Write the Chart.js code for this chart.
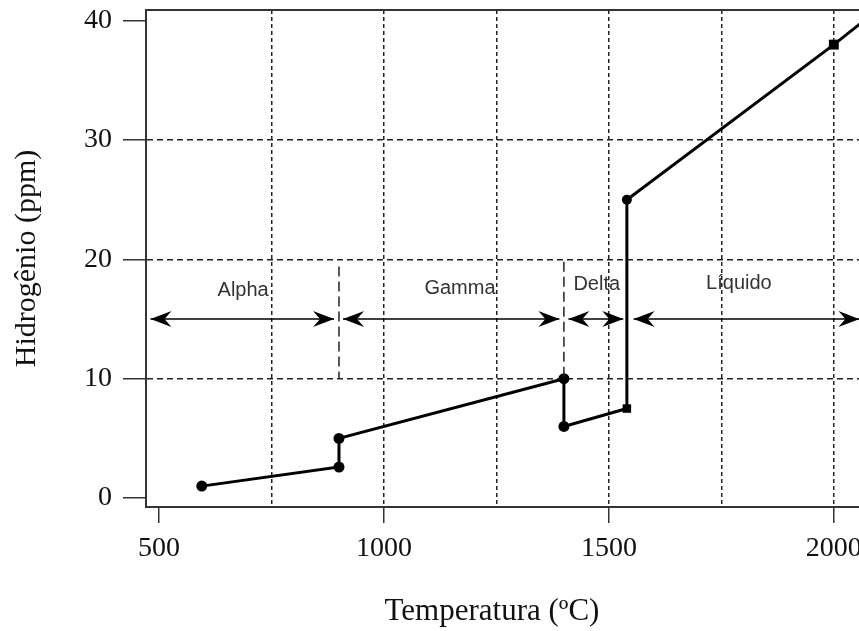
<!DOCTYPE html>
<html>
<head>
<meta charset="utf-8">
<title>Hidrogênio x Temperatura</title>
<script src="https://cdn.jsdelivr.net/npm/chart.js@4.4.1/dist/chart.umd.min.js"></script>
<style>
    html, body { margin: 0; padding: 0; background: #fff; }
</style>
</head>
<body>
<canvas id="chart" width="859" height="631"></canvas>
<script>
// Solubilidade do hidrogênio no ferro
const temperatures = [595, 900, 900, 1400, 1400, 1540, 1540, 2000, 2100];
const hydrogen = [1, 2.6, 5, 10, 6, 7.5, 25, 38, 41];
const markerStyles = ['circle', 'circle', 'circle', 'circle', 'circle', 'rect', 'circle', 'rect', 'circle'];
const markerSizes = [5.5, 5.5, 5.5, 5.5, 5.5, 6, 5, 7, 0];

const xTicks = [500, 1000, 1500, 2000];
const xGrid = [750, 1000, 1250, 1500, 1750, 2000];
const yTicks = [0, 10, 20, 30, 40];
const yGrid = [10, 20, 30];

// Faixas das fases (setas duplas em 15 ppm)
const phaseNames = ['Alpha', 'Gamma', 'Delta', 'Líquido'];
const phaseStart = [481, 909, 1410, 1555];
const phaseEnd = [889, 1390, 1532, 2057];
const phaseLabelX = [687, 1169, 1473, 1789];
const phaseLabelY = [17.4, 17.6, 17.9, 18.0];
const arrowLevel = 15;

// Limites de fase tracejados
const boundaryX = [900, 1400];
const boundaryTop = [19.4, 19.8];
const boundaryBottom = [10, 10];

const serif = 'Liberation Serif';
const sans = 'Liberation Sans';

/**
 * Desenha a ponta de seta (dir = 1 para a direita, -1 para a esquerda)
 */
function arrowHead(ctx, tipX, y, dir) {
    ctx.beginPath();
    ctx.moveTo(tipX, y);
    ctx.lineTo(tipX - dir * 21, y - 8);
    ctx.lineTo(tipX - dir * 14, y);
    ctx.lineTo(tipX - dir * 21, y + 8);
    ctx.closePath();
    ctx.fill();
}

const phasePlugin = {
    id: 'phases',
    afterDatasetsDraw(chart) {
        const { ctx, chartArea, scales: { x, y } } = chart;
        ctx.save();

        // Linha superior da moldura
        ctx.strokeStyle = '#333';
        ctx.lineWidth = 2;
        ctx.beginPath();
        ctx.moveTo(chartArea.left - 1, chartArea.top);
        ctx.lineTo(chartArea.right, chartArea.top);
        ctx.stroke();

        // Limites tracejados
        ctx.strokeStyle = '#222';
        ctx.lineWidth = 1.5;
        ctx.setLineDash([10, 5]);
        boundaryX.forEach((b, i) => {
            const px = x.getPixelForValue(b);
            ctx.beginPath();
            ctx.moveTo(px, y.getPixelForValue(boundaryTop[i]));
            ctx.lineTo(px, y.getPixelForValue(boundaryBottom[i]));
            ctx.stroke();
        });
        ctx.setLineDash([]);

        // Setas das fases
        const ay = y.getPixelForValue(arrowLevel);
        ctx.fillStyle = '#000';
        ctx.strokeStyle = '#000';
        phaseStart.forEach((s, i) => {
            const x1 = x.getPixelForValue(s);
            const x2 = x.getPixelForValue(phaseEnd[i]);
            ctx.lineWidth = 1.5;
            ctx.beginPath();
            ctx.moveTo(x1, ay);
            ctx.lineTo(x2, ay);
            ctx.stroke();
            arrowHead(ctx, x1, ay, -1);
            arrowHead(ctx, x2, ay, 1);
        });

        // Nomes das fases
        ctx.fillStyle = '#333';
        ctx.font = `20px "${sans}"`;
        ctx.textAlign = 'center';
        ctx.textBaseline = 'middle';
        phaseNames.forEach((name, i) => {
            ctx.fillText(name, x.getPixelForValue(phaseLabelX[i]), y.getPixelForValue(phaseLabelY[i]));
        });

        // Título do eixo X
        ctx.fillStyle = '#111';
        ctx.font = `31px "${serif}"`;
        ctx.fillText('Temperatura (ºC)', 492, 612);

        ctx.restore();
    }
};

const ctx = document.getElementById('chart');

new Chart(ctx, {
    type: 'line',
    data: {
        datasets: [{
            data: temperatures.map((t, i) => ({ x: t, y: hydrogen[i] })),
            borderColor: '#000',
            borderWidth: 3,
            pointStyle: markerStyles,
            pointRadius: markerSizes,
            pointBackgroundColor: '#000',
            pointBorderColor: '#000',
            pointBorderWidth: 0,
            tension: 0,
            fill: false
        }]
    },
    options: {
        responsive: false,
        animation: false,
        layout: {
            autoPadding: false,
            padding: { top: 10, left: 0, right: 0, bottom: 0 }
        },
        plugins: {
            legend: { display: false },
            tooltip: { enabled: false }
        },
        scales: {
            x: {
                type: 'linear',
                min: 471,
                max: 2056,
                afterFit: scale => {
                    scale.height = 124;
                    scale.paddingLeft = 0;
                    scale.paddingRight = 0;
                },
                ticks: {
                    stepSize: 250,
                    includeBounds: false,
                    autoSkip: false,
                    maxRotation: 0,
                    padding: 9,
                    color: '#111',
                    font: { family: serif, size: 28 },
                    callback: value => xTicks.includes(value) ? String(value) : ''
                },
                grid: {
                    color: c => xGrid.includes(c.tick && c.tick.value) ? '#222' : 'rgba(0,0,0,0)',
                    tickColor: c => xTicks.includes(c.tick && c.tick.value) ? '#333' : 'rgba(0,0,0,0)',
                    lineWidth: 1.5,
                    tickWidth: 1.5,
                    tickLength: 16
                },
                border: {
                    display: true,
                    color: '#333',
                    width: 2,
                    dash: [4, 3]
                }
            },
            y: {
                min: -0.75,
                max: 40.9,
                afterFit: scale => {
                    scale.width = 146;
                    scale.paddingTop = 0;
                    scale.paddingBottom = 0;
                },
                title: {
                    display: true,
                    text: 'Hidrogênio (ppm)',
                    color: '#111',
                    font: { family: serif, size: 30 },
                    padding: { top: 9 }
                },
                ticks: {
                    stepSize: 10,
                    includeBounds: false,
                    padding: 11,
                    color: '#111',
                    font: { family: serif, size: 28 },
                    callback: value => yTicks.includes(value) ? String(value) : ''
                },
                grid: {
                    color: c => yGrid.includes(c.tick && c.tick.value) ? '#222' : 'rgba(0,0,0,0)',
                    tickColor: '#333',
                    lineWidth: 1.5,
                    tickWidth: 1.5,
                    tickLength: 23
                },
                border: {
                    display: true,
                    color: '#333',
                    width: 2,
                    dash: [6, 4]
                }
            }
        }
    },
    plugins: [phasePlugin]
});
</script>
</body>
</html>
